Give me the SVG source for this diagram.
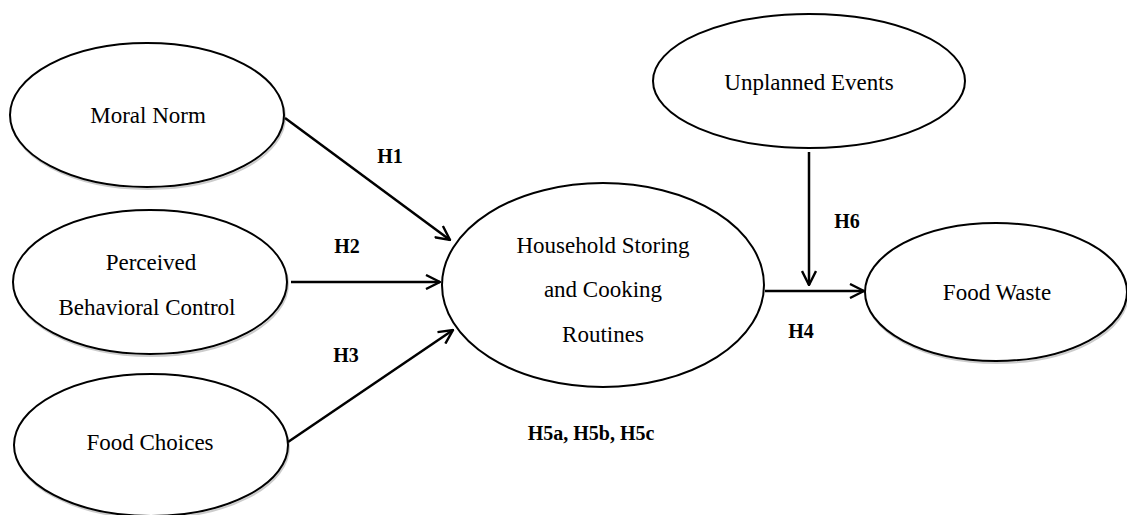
<svg xmlns="http://www.w3.org/2000/svg" width="1127" height="515" viewBox="0 0 1127 515">
<defs>
<marker id="arr" viewBox="0 0 16 16" refX="15" refY="8" markerWidth="16" markerHeight="16" markerUnits="userSpaceOnUse" orient="auto">
<path d="M1,1 L15,8 L1,15" fill="none" stroke="#000" stroke-width="2.4" stroke-linejoin="miter"/>
</marker>
</defs>
<style>
.node{fill:#fff;stroke:#000;stroke-width:2}
.shadow{fill:none;stroke:#ccc;stroke-width:2}
.t{font-family:'Liberation Serif','DejaVu Serif',serif;font-size:23px;fill:#000;text-anchor:middle}
.lbl{font-family:'Liberation Serif','DejaVu Serif',serif;font-size:20px;font-weight:bold;fill:#000;text-anchor:middle}
.edge{stroke:#000;stroke-width:2.5;fill:none;marker-end:url(#arr)}
</style>
<rect width="1127" height="515" fill="#fff"/>
<g id="moral-norm">
<ellipse class="shadow" cx="148" cy="117" rx="137" ry="72"/>
<ellipse class="node" cx="147" cy="115" rx="137" ry="72"/>
<text class="t" x="148" y="123">Moral Norm</text>
</g>
<g id="perceived-behavioral-control">
<ellipse class="shadow" cx="151" cy="284" rx="137" ry="72"/>
<ellipse class="node" cx="150" cy="282" rx="137" ry="72"/>
<text class="t" x="151" y="270">Perceived</text>
<text class="t" x="147" y="315">Behavioral Control</text>
</g>
<g id="food-choices">
<ellipse class="shadow" cx="152" cy="447" rx="137" ry="71"/>
<ellipse class="node" cx="151" cy="445" rx="137" ry="71"/>
<text class="t" x="150" y="450">Food Choices</text>
</g>
<g id="household">
<ellipse class="node" cx="603" cy="285" rx="161" ry="102"/>
<text class="t" x="603" y="253">Household Storing</text>
<text class="t" x="603" y="297">and Cooking</text>
<text class="t" x="603" y="342">Routines</text>
</g>
<g id="unplanned-events">
<ellipse class="node" cx="809" cy="81" rx="156" ry="67"/>
<text class="t" x="809" y="90">Unplanned Events</text>
</g>
<g id="food-waste">
<ellipse class="shadow" cx="997" cy="294" rx="131" ry="69"/>
<ellipse class="node" cx="996" cy="292" rx="131" ry="69"/>
<text class="t" x="997" y="300">Food Waste</text>
</g>
<g id="connectors">
<line class="edge" x1="285" y1="118" x2="450" y2="240"/>
<line class="edge" x1="291" y1="282" x2="440" y2="282"/>
<line class="edge" x1="288" y1="442" x2="453" y2="330"/>
<line class="edge" x1="765" y1="291" x2="864" y2="291"/>
<line class="edge" x1="809" y1="152" x2="809" y2="285"/>
</g>
<g id="labels">
<text class="lbl" x="390" y="163">H1</text>
<text class="lbl" x="347" y="253">H2</text>
<text class="lbl" x="346" y="362">H3</text>
<text class="lbl" x="801" y="338">H4</text>
<text class="lbl" x="847" y="228">H6</text>
<text class="lbl" x="591" y="440">H5a, H5b, H5c</text>
</g>
</svg>
